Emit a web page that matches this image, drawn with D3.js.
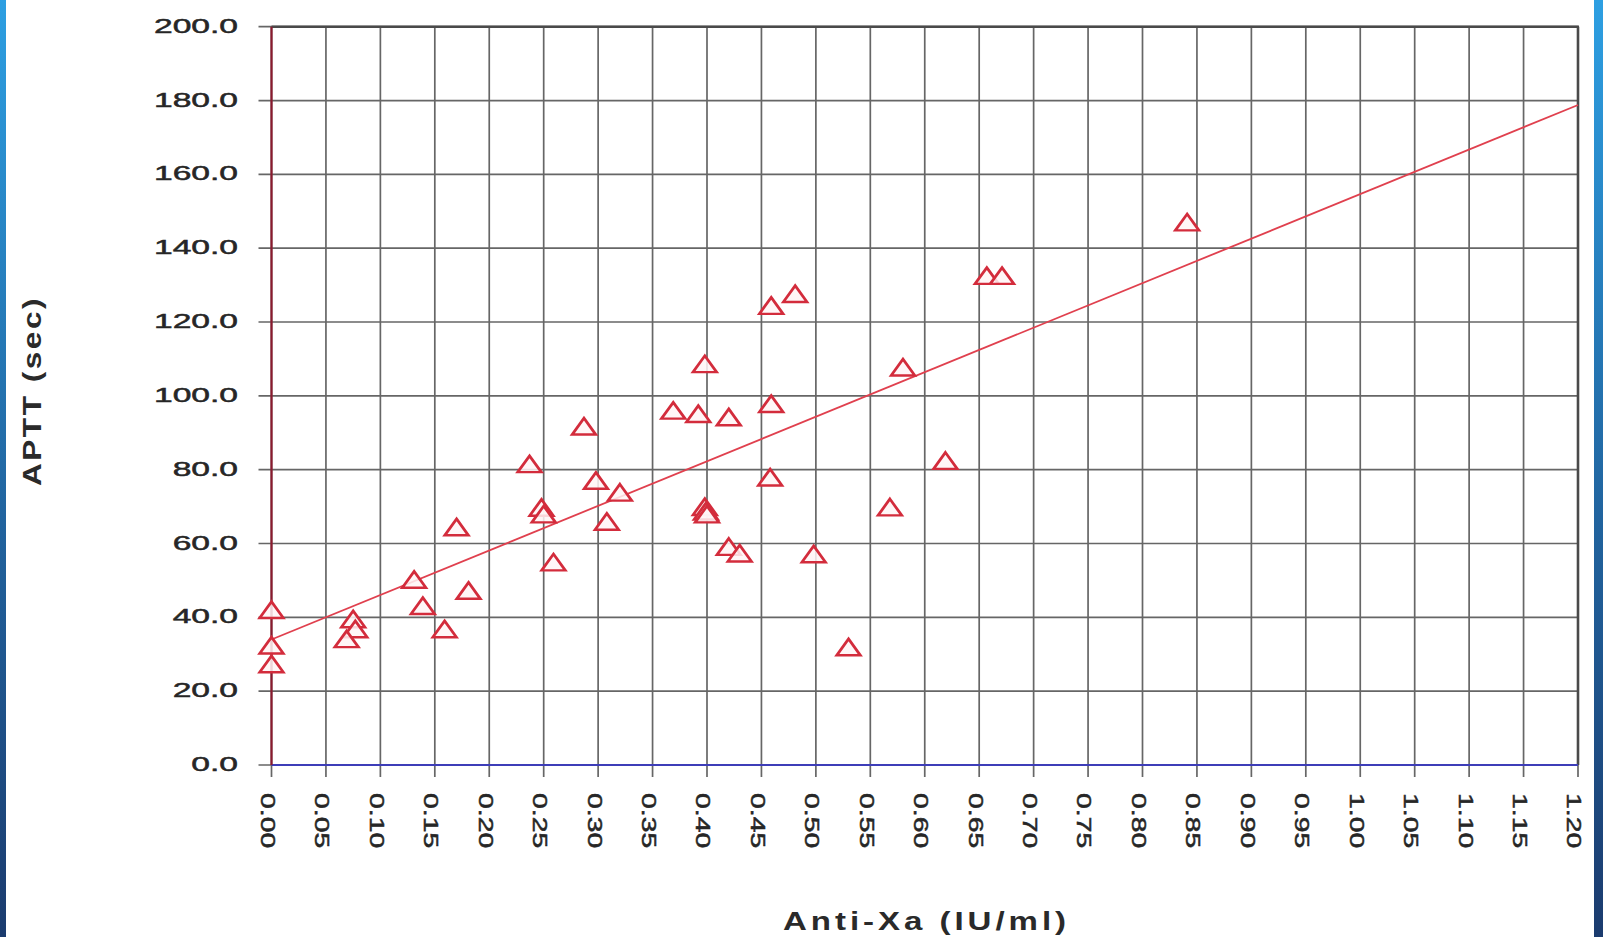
<!DOCTYPE html>
<html><head><meta charset="utf-8">
<script src="https://cdn.jsdelivr.net/npm/d3@7"></script>
<style>html,body{margin:0;padding:0;background:#fff;overflow:hidden}</style>
</head><body><svg id="c" width="1603" height="937"></svg>
<script>
// ---- data ----
const antiXa = [0.000,0.000,0.000,0.075,0.077,0.069,0.131,0.139,0.159,0.170,0.181,0.237,0.248,0.250,0.259,0.287,0.298,0.308,0.320,0.369,0.392,0.398,0.398,0.399,0.400,0.420,0.420,0.430,0.459,0.459,0.458,0.481,0.498,0.530,0.568,0.580,0.619,0.657,0.671,0.841];
const aptt   = [41.3,31.7,26.6,38.8,36.1,33.4,49.5,42.4,36.1,63.7,46.5,80.8,69.0,67.2,54.2,91.0,76.3,65.2,73.1,95.3,94.4,107.9,69.2,68.0,67.2,93.5,58.4,56.6,123.7,97.1,77.2,126.9,56.4,31.2,69.1,107.0,81.7,131.8,131.8,146.3];
const fitX = [0, 1.2];
const fitY = [34.0, 178.8];
const xTickValues = [0,0.05,0.10,0.15,0.20,0.25,0.30,0.35,0.40,0.45,0.50,0.55,0.60,0.65,0.70,0.75,0.80,0.85,0.90,0.95,1.00,1.05,1.10,1.15,1.20];
const xTickLabels = ["0.00","0.05","0.10","0.15","0.20","0.25","0.30","0.35","0.40","0.45","0.50","0.55","0.60","0.65","0.70","0.75","0.80","0.85","0.90","0.95","1.00","1.05","1.10","1.15","1.20"];
const yTickValues = [0,20,40,60,80,100,120,140,160,180,200];
const yTickLabels = ["0.0","20.0","40.0","60.0","80.0","100.0","120.0","140.0","160.0","180.0","200.0"];
const xTitle = "Anti-Xa (IU/ml)";
const yTitle = "APTT (sec)";

// ---- layout ----
const W = 1603, H = 937;
const L = 271.5, R = 1578, T = 26.7, B = 765;
const svg = d3.select("#c");
const x = d3.scaleLinear().domain([0, 1.2]).range([L, R]);
const y = d3.scaleLinear().domain([0, 200]).range([B, T]);
const font = "'Liberation Sans', Arial, sans-serif";

// side bars
const defs = svg.append("defs");
const g1 = defs.append("linearGradient").attr("id","bar").attr("x1",0).attr("y1",0).attr("x2",0).attr("y2",1);
g1.append("stop").attr("offset","0%").attr("stop-color","#2d9fe2");
g1.append("stop").attr("offset","55%").attr("stop-color","#21649f");
g1.append("stop").attr("offset","100%").attr("stop-color","#1b3b6e");
svg.append("rect").attr("x",0).attr("y",0).attr("width",6).attr("height",H).attr("fill","url(#bar)");
svg.append("rect").attr("x",1594).attr("y",0).attr("width",9).attr("height",H).attr("fill","url(#bar)");

const gridColor = "#666";
// vertical grid lines + outside ticks
svg.append("g").selectAll("line").data(xTickValues).join("line")
  .attr("x1", d => x(d)).attr("x2", d => x(d))
  .attr("y1", T).attr("y2", B + 12)
  .attr("stroke", gridColor).attr("stroke-width", 1.7);
// horizontal grid lines + outside ticks
svg.append("g").selectAll("line").data(yTickValues).join("line")
  .attr("x1", L - 13).attr("x2", R)
  .attr("y1", d => y(d)).attr("y2", d => y(d))
  .attr("stroke", gridColor).attr("stroke-width", 1.7);
// border top/right
svg.append("line").attr("x1",L).attr("x2",R+1).attr("y1",T).attr("y2",T).attr("stroke","#4a4a4a").attr("stroke-width",2.6);
svg.append("line").attr("x1",R).attr("x2",R).attr("y1",T).attr("y2",B).attr("stroke","#4a4a4a").attr("stroke-width",2.6);
// axes lines
svg.append("line").attr("x1",L).attr("x2",R).attr("y1",B).attr("y2",B).attr("stroke","#3d3db8").attr("stroke-width",2.2);
svg.append("line").attr("x1",L).attr("x2",L).attr("y1",T).attr("y2",B).attr("stroke","#8a1a2e").attr("stroke-width",2.2);

// tick labels
svg.append("g").selectAll("text").data(yTickValues).join("text")
  .attr("transform", d => `translate(238,${y(d) - 1}) scale(1.6,1)`)
  .attr("text-anchor","end").attr("dominant-baseline","central")
  .attr("font-family",font).attr("font-size",21)
  .attr("fill","#262626").attr("stroke","#262626").attr("stroke-width",0.5)
  .text((d,i) => yTickLabels[i]);
svg.append("g").selectAll("text").data(xTickValues).join("text")
  .attr("transform", d => `translate(${x(d) - 3},793) rotate(90) scale(1.35,1)`)
  .attr("text-anchor","start").attr("dominant-baseline","central")
  .attr("font-family",font).attr("font-size",21)
  .attr("fill","#262626").attr("stroke","#262626").attr("stroke-width",0.5)
  .text((d,i) => xTickLabels[i]);

// axis titles
svg.append("text").attr("x",783).attr("y",930)
  .attr("textLength",287).attr("lengthAdjust","spacingAndGlyphs")
  .style("letter-spacing","3px")
  .attr("font-family",font).attr("font-weight","bold").attr("font-size",25)
  .attr("fill","#2a2a2a").text(xTitle);
svg.append("text").attr("transform","translate(41,486) rotate(-90)")
  .attr("textLength",190).attr("lengthAdjust","spacingAndGlyphs")
  .style("letter-spacing","2px")
  .attr("font-family",font).attr("font-weight","bold").attr("font-size",25)
  .attr("fill","#2a2a2a").text(yTitle);

// regression line
const line = d3.line().x(d => x(d[0])).y(d => y(d[1]));
svg.append("path").datum(d3.zip(fitX, fitY)).attr("d", line)
  .attr("fill","none").attr("stroke","#e0404e").attr("stroke-width",1.8);

// markers
const tri = d3.symbol(d3.symbolTriangle).size(200);
svg.append("g").selectAll("path").data(d3.zip(antiXa, aptt)).join("path")
  .attr("transform", d => `translate(${x(d[0])},${y(d[1])}) scale(1.1,0.88)`)
  .attr("d", tri())
  .attr("fill","#fff5f6").attr("fill-opacity",0.85)
  .attr("stroke","#d32c3c").attr("stroke-width",2.7);
</script>
</body></html>
